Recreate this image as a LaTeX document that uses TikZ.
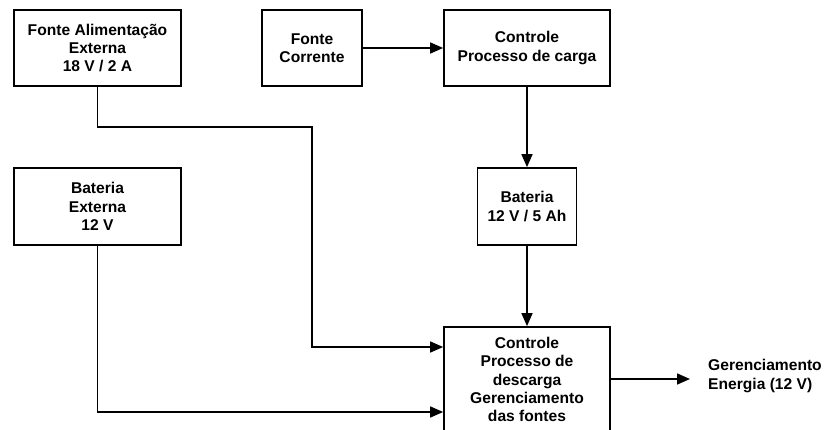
\documentclass[tikz,border=0pt]{standalone}
\usepackage{fontspec}
\setmainfont{Liberation Sans}
\usetikzlibrary{arrows.meta}
\begin{document}
\begin{tikzpicture}[x=1pt,y=-1pt,
  block/.style={draw, line width=1.7pt, align=center, inner sep=0pt,
    font=\bfseries\fontsize{15.6}{18.3}\selectfont},
  wire/.style={line width=1.6pt, line join=miter},
  flow/.style={wire, -{Triangle[length=13pt,width=11pt]}}]
\useasboundingbox (0,0) rectangle (824,430);
\fill[white] (0,0) rectangle (824,430);

% blocks
\node[block, minimum width=167pt, minimum height=76pt] (ext) at (97.5,48)
  {Fonte Alimentação\\Externa\\18 V / 2 A};
\node[block, minimum width=100pt, minimum height=76pt] (fc) at (312,48)
  {Fonte\\Corrente};
\node[block, minimum width=166pt, minimum height=76pt] (carga) at (527,48)
  {Controle\\Processo de carga};
\node[block, minimum width=167pt, minimum height=77pt] (batext) at (97.5,206.5)
  {Bateria\\Externa\\12 V};
\node[block, minimum width=99pt, minimum height=77pt] (bat) at (527,206.5)
  {Bateria\\12 V / 5 Ah};
\node[block, minimum width=166pt, minimum height=105pt] (desc) at (527,379.5)
  {Controle\\Processo de\\descarga\\Gerenciamento\\das fontes};
\node[align=left, anchor=west, inner sep=0pt,
  font=\bfseries\fontsize{15.6}{18.3}\selectfont] (out) at (708,376)
  {Gerenciamento\\Energia (12 V)};
\coordinate (outend) at (690,379);

% connectors
\draw[flow] (fc.east) -- (carga.west);
\draw[flow] (carga.south) -- (bat.north);
\draw[flow] (bat.south) -- (desc.north);
\draw[flow] (ext.south) |- (312,127) |- (desc.west |- 0,347);
\draw[flow] (batext.south) |- (desc.west |- 0,412);
\draw[flow] (desc.east |- outend) -- (outend);
\end{tikzpicture}
\end{document}
